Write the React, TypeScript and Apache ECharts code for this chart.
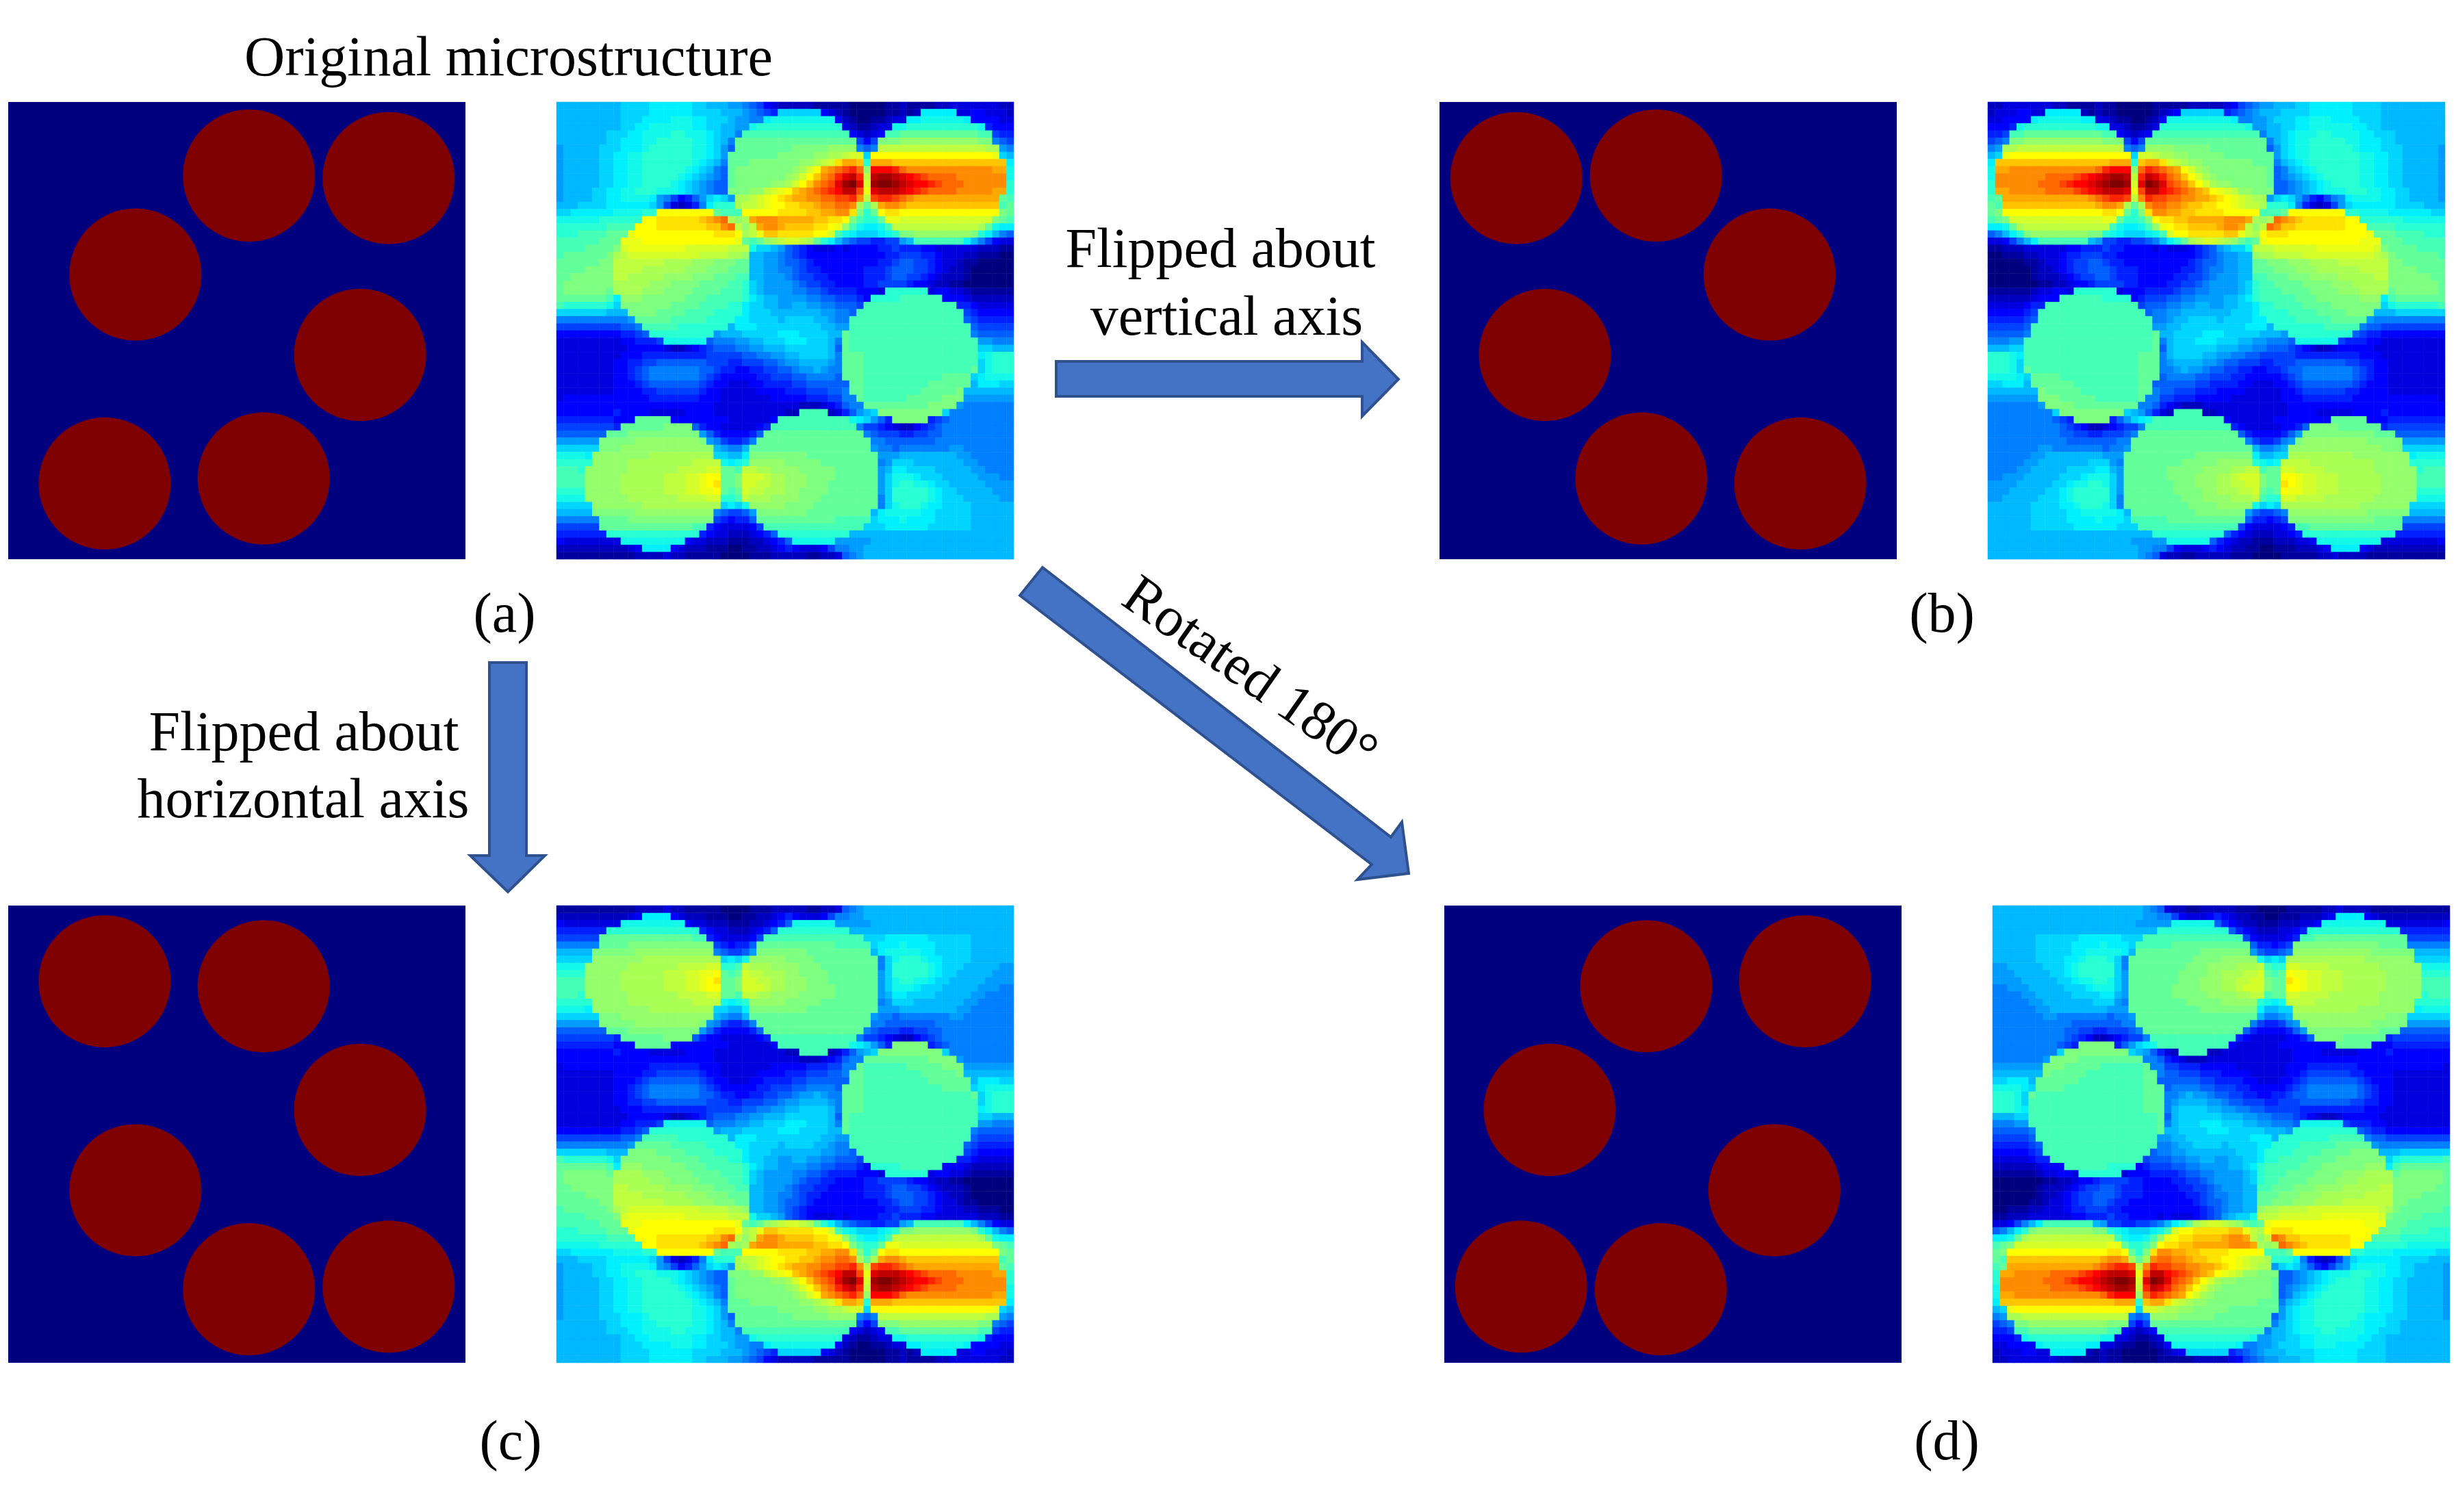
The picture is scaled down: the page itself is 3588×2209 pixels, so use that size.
import React, { useEffect, useRef } from "react";
import * as echarts from "echarts";

// Stress field of the original microstructure, one character per cell (0-9a-z = level 0-35)
const fieldRows = [
"aaaaaaaa abbbbccc cccbbaaa 99876432 22221111 10000011 21111223 33333322",
"aaaaaaaa abbbbccc cccbbbba aa98765b bbbbb432 10000011 212ccccc 33443332",
"aaaaaaaa abbbcccc dddccbbb a9988cdd ddddddd4 21001123 3ccddddd dc444433",
"aaaaaaaa abbccddd dddccbba a99deeee eeeeeeee 3211233d deeeeeee eeed5444",
"aaaaaaab bbccdddd eedddcba a8ffffff ffffffff f43234ff gggggggg gggff655",
"aaaaaaab bcccddee eeeddcba 8ggggggg gggggggg gg646hhh iiiiiiii iiihh876",
"9aaaaabb bcccdeee eeeddcb9 7ggggggg ghhhhhii ii878kkk kkkkkkkk kkkkjj98",
"9aaaaabb ccddeeee eeeddcb9 gggggggh hhhhiijj kllbnnnn nnnnnnnn nnnnnmba",
"9aaaaabb ccddeeee eeedcba8 ggghhhhh hhiijklo qqpeqqqp pppppppp pppppppc",
"9aaaaabb ccddeeee eedcba87 ghhhhhhh hijlnqrs tusivvvu srrrrrrr rrrrrqqd",
"9aaaaabb ccddeeee edcba987 ghhhhhhh ijlnprsu wxukxyyx wvutssss rrrrrrrd",
"9aaaaabb ccddeeee dcba9877 ghhhhhii jlnprstw yzwlyzzy xwvvutss srrrrrre",
"9aaaabbc cddeeedd dcba9877 hhhiiklm npqrstuv xxtmwxxx wvutssss rrrrrqqe",
"9aaaabbc cddddc98 64579bcb 9jjklmno pqqrrsst turktuut srqqqqqq qqqqqqgf",
"aaabbbbc cccccb96 32358cee ejkklmnn ooppqrrs srjgjqrr qppppppp ppppppfg",
"bbcccccc ddddeenn nnnnnngf ffnnnnno oooppqqr rohegnoo nnnnnnnn nnnnnnhg",
"ddddddee eeeennoo oooopqrs jijqrrrq qqqqppoo nhfeegmm llllllll lllllhgf",
"eeeeeeef fffnnnoo oooooppr skikqrrq ppppoonm ifdccdfk kkkkkkkk kkkjgdcc",
"eeeffffg ggmnnnnn nnnnnnoo onjkmppo oooonnlf dcbbbcde hhiiiiii iiheca87",
"ffffffgg gmmmnnnn nnnnnnnn nmgfgijk llkjgeca 87665566 9affffff fca86433",
"ffffgggg hlmmmmmm mmllllll kkkdbba9 76543334 34444556 55544333 33322211",
"fggggggh jkllllll llllkkkk jjiaa998 76544444 44444455 66655433 32211100",
"gggggghh kkkkkkkj jjjiiihh hggaa998 77654444 44444556 77665433 21100000",
"gggghhhh kkkkjjjj jjiiihhh gggaa998 87655444 44455567 77665432 21000000",
"gghhhhhh kkjjjjji iiihhhgg gffaa999 87665544 44455567 76654322 21000000",
"ghhhhhhh jjjjjiii hhhhgggg ffeba999 98766554 44455666 65443221 10000000",
"ghhhhhhg jjjjiiih hhhggggf ffeba999 98877655 554443ee eeee3443 32111111",
"gggggggf ciiihhhh hhgggfff ffecbaa9 99988776 6654eeee ffffff44 43222222",
"feeeeeed bhhhhhhh ggggffff eecbbaa9 9aa99887 776fffff ffffffff 55433333",
"bbbbbbba aahhhhgg ggffffee eecbbbaa aaaaa998 87ffffff ffffffff f6544444",
"88888888 889ggggg fffffeee eccbbbba bbbbaa98 8fffffff ffffffff f7655555",
"66666666 6778ffff feeeeeee acccbbbb bbbbbaa9 9fffffff ffffffff ff766666",
"44444444 45567eee eeeeee9a aabbbbbc ccbbbbaa gfffffff ffffffff ff877777",
"33333333 3445556d ddddd788 899aabbb cccbbba8 gfffffff ffffffff fff99888",
"33333333 33444443 22345677 78899aaa bbbbbba7 gfffffff ffffffff fffbbaaa",
"33333333 34445555 55555666 66778899 aabbbba8 gggfffff ffffffff fffcdeee",
"33333333 44556677 77777666 55666778 99aaaa98 gggfffff ffffffff fffbdeee",
"33333333 44567888 88887765 54455667 7899a988 gggfffff ffffffff ffgbdeee",
"33333333 44567888 88887654 44445566 67788887 gggfffff ffffffgg ggbcdddd",
"33333333 44456777 77776544 33344555 56677777 7ggfffff ffffgggg ggacccbb",
"33333333 44445566 66665443 33334444 55566677 8ggfffff fffggggg haaaaaaa",
"34444444 44444555 55554443 33333344 44455566 88gfffff fggggghh h9999999",
"44444444 44444444 44444433 33333333 33222345 788ggggg gggghhhh 98888888",
"44444444 54444333 33444433 33333333 22ffff23 579abhhh hhhhhhb8 88888888",
"55555555 444ggggg 44444444 3333334f ffffffff fdcb975h hhhh5678 88888888",
"66666666 5ggggggh hhh75443 333345ff ffffffff ff866543 22456788 88888888",
"7777777g gghhhhhh hhhh9754 44457ggg gggggggg ggg87666 55667788 88888888",
"999999hh hhhiiiii iiiih986 5568gggg gggggggg gggg8877 77777888 88888888",
"bbbbbbhh hiiiiiii iiiiiia9 88aggggg gggggggg gggg9887 88888889 98888888",
"ddddciii iiiiijjj jjjjjjbb aachhhhh hhhggggg ggggg999 aaaaaaaa 99888888",
"eeeeeiii iijjjjjj jjjkkkkd cdeiiiii hhhhhggg ggggg89b bbaaaaaa a9988888",
"fffeiiii iijjjjjj jkkkkllg gfkkjjii iihhhhhg ggggg9ac cbbbbaaa aa998888",
"ffffiiii ijjjjjjk kkllmnng ghlllkjj iiihhhhg ggggg9bd ddcbbbaa aaa99988",
"ffffiiii ijjjjjjk kkllmnog ghllkkjj iiihhhgg ggggg9bd eeddcbba aaaa9999",
"eeeeiiii ijjjjjjk kkllmmng fglkkjjj iihhhhgg ggggg9be eeeedcbb aaaaa999",
"ddddiiii iijjjjjj jkkkklle efkjjjii iihhhggg ggggg8be eeeedcbb baaaaa99",
"bbbbbiii iiiijjjj jjjjjjjb cbdiiiii hhhhgggg ggggg8bd eeedccbb bbaaaaaa",
"aaaaahhh hhhiiiii iiiiii87 6679hhhh hhhggggg ggggacdd dddccbbb bbaaaaaa",
"888888gg gghhhhhh hhhhhh65 4557gggg gggggggf ffffbccc dccccbbb bbaaaaaa",
"666666gg gggggggg gggff543 33346fff ffffffff fffbbbcc ccccbbbb bbaaaaaa",
"5555555e eeeeeeee eeee5433 2223457e eeeeeeee eaaaaaaa aaaaaaaa aaaaaaaa",
"43333333 3ddddddd dd433222 11122345 7dddddd9 9999aaaa aaaaaaaa aaaaaaaa",
"22222222 2234cccc 43222111 00112234 54333468 899aaaaa aaaaaaaa aaaaaaaa",
"11111111 11122223 22111110 00011122 22211223 789aaaaa aaaaaaaa aaaaaaaa",
];

// Particle centres of the original microstructure (column, row of a 128 x 128 image)
const particleCentres = [
  [67.4, 20.6],
  [106.5, 21.3],
  [35.6, 48.3],
  [98.5, 70.8],
  [27.0, 106.8],
  [71.5, 105.4],
];

const caseLabels = ["(a)", "(b)", "(c)", "(d)"];

const PANEL = 668;
const PARTICLE_PX = 193;
const FONT = '82px "Liberation Serif"';
const BASELINE = 68;

// [left of microstructure, left of field, top, top, flip x, flip y]
const cases: [number, number, number, number, boolean, boolean][] = [
  [12, 813, 149, 149, false, false],
  [2103, 2904, 149, 149, true, false],
  [12, 813, 1323, 1323, false, true],
  [2110, 2911, 1323, 1323, true, true],
];

const stops: [number, number[]][] = [
  [0, [0, 0, 127]],
  [4, [0, 0, 255]],
  [8, [0, 127, 255]],
  [12, [0, 240, 255]],
  [14, [40, 255, 210]],
  [17, [127, 255, 127]],
  [23, [255, 255, 0]],
  [27, [255, 140, 0]],
  [31, [255, 0, 0]],
  [35, [127, 0, 0]],
];

function levelColor(level: number) {
  let i = 0;
  while (i < stops.length - 2 && level > stops[i + 1][0]) i++;
  const [a, ca] = stops[i];
  const [b, cb] = stops[i + 1];
  const t = (level - a) / (b - a);
  const c = ca.map((v, k) => Math.round(v + (cb[k] - v) * t));
  return `rgb(${c[0]},${c[1]},${c[2]})`;
}
const jet = Array.from({ length: 36 }, (_, i) => levelColor(i));

const field = fieldRows.map((r) => r.replace(/ /g, ""));
const heatData: number[][] = [];
field.forEach((row, y) => {
  for (let x = 0; x < row.length; x++) heatData.push([x, y, parseInt(row[x], 36)]);
});
const cellNames = Array.from({ length: 64 }, (_, i) => String(i));

const ARROW = { fill: "#4472C4", stroke: "#2F528F", lineWidth: 4 };

function label(text: string, x: number, baseline: number, extra: any = {}) {
  return {
    type: "text",
    x,
    y: baseline - BASELINE,
    silent: true,
    ...extra,
    style: { text, x: 0, y: 0, font: FONT, fill: "#000", textAlign: "center", textBaseline: "top" },
  };
}

function arrow(points: number[][]) {
  return { type: "polygon", silent: true, shape: { points }, style: ARROW };
}

export default function App() {
  const ref = useRef<HTMLDivElement>(null);
  useEffect(() => {
    document.body.style.margin = "0";
    const chart = echarts.init(ref.current!, undefined, { renderer: "svg" });
    const grid: any[] = [];
    const xAxis: any[] = [];
    const yAxis: any[] = [];
    const series: any[] = [];
    const heatIdx: number[] = [];
    cases.forEach(([leftA, leftB, topA, topB, flipX, flipY]) => {
      const g1 = grid.length;
      grid.push({
        left: leftA, top: topA, width: PANEL, height: PANEL, show: true,
        backgroundColor: "#00007f", borderWidth: 0,
      });
      xAxis.push({ gridIndex: g1, type: "value", min: 0, max: 128, show: false, inverse: flipX });
      yAxis.push({ gridIndex: g1, type: "value", min: 0, max: 128, show: false, inverse: !flipY });
      series.push({
        type: "scatter", xAxisIndex: g1, yAxisIndex: g1, data: particleCentres,
        symbol: "circle", symbolSize: PARTICLE_PX,
        itemStyle: { color: "#7f0000", opacity: 1 }, silent: true,
      });
      const g2 = grid.length;
      grid.push({ left: leftB, top: topB, width: PANEL, height: PANEL, show: false });
      xAxis.push({ gridIndex: g2, type: "category", data: cellNames, show: false, inverse: flipX });
      yAxis.push({ gridIndex: g2, type: "category", data: cellNames, show: false, inverse: !flipY });
      heatIdx.push(series.length);
      series.push({
        type: "heatmap", xAxisIndex: g2, yAxisIndex: g2, data: heatData,
        progressive: 0, silent: true, itemStyle: { borderWidth: 0 },
      });
    });
    chart.setOption({
      animation: false,
      backgroundColor: "#fff",
      grid, xAxis, yAxis, series,
      visualMap: {
        show: false, type: "continuous", min: 0, max: 35, dimension: 2,
        seriesIndex: heatIdx, inRange: { color: jet },
      },
      graphic: {
        elements: [
          arrow([[1543, 528], [1990, 528], [1990, 500], [2043, 554], [1990, 608], [1990, 579], [1543, 579]]),
          arrow([[1490, 870], [1523, 829], [2032, 1223], [2048, 1201], [2058, 1276], [1983, 1285], [2004, 1263]]),
          arrow([[715, 968], [769, 968], [769, 1250], [796, 1250], [742, 1303], [687, 1250], [715, 1250]]),
          label("Original microstructure", 743, 109),
          label("Flipped about", 1783, 389),
          label("vertical axis", 1792, 488),
          label("Flipped about", 444, 1095),
          label("horizontal axis", 443, 1193),
          label("Rotated 180°", 1851, 1017, { rotation: (-35 * Math.PI) / 180 }),
          label(caseLabels[0], 737, 922),
          label(caseLabels[1], 2837, 922),
          label(caseLabels[2], 746, 2131),
          label(caseLabels[3], 2844, 2131),
        ],
      },
    });
    return () => chart.dispose();
  }, []);
  return <div ref={ref} style={{ position: "absolute", left: 0, top: 0, width: 3588, height: 2209 }} />;
}
